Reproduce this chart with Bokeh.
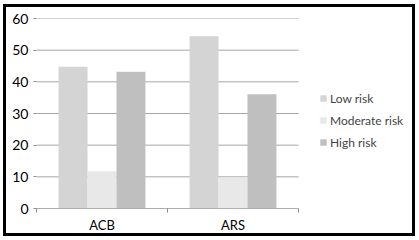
from bokeh.plotting import figure
from bokeh.models import Legend, LegendItem, FixedTicker, ColumnDataSource
from bokeh.transform import dodge
from bokeh.embed import file_html
from bokeh.resources import INLINE

categories = ["ACB", "ARS"]
series_names = ["Low risk", "Moderate risk", "High risk"]
low_risk = [44.8, 54.4]
moderate_risk = [11.8, 9.7]
high_risk = [43.2, 36.1]
y_ticks = [0, 10, 20, 30, 40, 50, 60]

colors = ["#d4d4d4", "#e8e8e8", "#bfbfbf"]
FONT = "Lato"
GRID = "#a6a6a6"

n = len(categories)
# plot area: 262 px for the categories, the rest of the frame holds the legend
frame_w = 412 - 30 - 12
x_end = n * frame_w / 262.0

src = ColumnDataSource(dict(
    pos=[i + 0.5 for i in range(n)],
    low=low_risk, mod=moderate_risk, high=high_risk,
))

p = figure(width=412, height=232, output_backend="svg", toolbar_location=None,
           x_range=(0, x_end), y_range=(0, 60),
           min_border_left=30, min_border_right=12, min_border_top=11, min_border_bottom=31)
p.styles = {"position": "absolute", "left": "3px", "top": "4px", "border": "3px solid black",
            "box-sizing": "border-box", "overflow": "hidden"}
p.outline_line_color = None
p.background_fill_color = "white"
p.border_fill_color = "white"

# gridlines limited to the category area
p.segment(x0=[0] * len(y_ticks), x1=[n] * len(y_ticks), y0=y_ticks, y1=y_ticks,
          line_color=GRID, line_width=1)

w = 0.221
r1 = p.vbar(x=dodge("pos", -w, range=p.x_range), top="low", width=w, source=src, color=colors[0], line_color=None)
r2 = p.vbar(x=dodge("pos", 0, range=p.x_range), top="mod", width=w, source=src, color=colors[1], line_color=None)
r3 = p.vbar(x=dodge("pos", w, range=p.x_range), top="high", width=w, source=src, color=colors[2], line_color=None)

# x axis line (category area only)
p.segment(x0=[0], x1=[n], y0=[0], y1=[0], line_color="#8c8c8c", line_width=1)

# axes
p.xaxis.ticker = FixedTicker(ticks=[i + 0.5 for i in range(n)],
                             minor_ticks=list(range(n + 1)))
p.xaxis.major_label_overrides = {i + 0.5: c for i, c in enumerate(categories)}
p.xaxis.major_tick_line_color = None
p.xaxis.major_tick_out = 0
p.xaxis.major_tick_in = 0
p.xaxis.minor_tick_out = 4
p.xaxis.minor_tick_in = 0
p.xaxis.minor_tick_line_color = "#8c8c8c"
p.xaxis.axis_line_color = None
p.xaxis.major_label_text_font = FONT
p.xaxis.major_label_text_font_size = "13px"
p.xaxis.major_label_text_color = "black"
p.xaxis.major_label_standoff = 4

p.yaxis.ticker = FixedTicker(ticks=y_ticks)
p.yaxis.axis_line_color = None
p.yaxis.major_tick_out = 3
p.yaxis.major_tick_in = 0
p.yaxis.major_tick_line_color = "#8c8c8c"
p.yaxis.minor_tick_line_color = None
p.yaxis.major_label_text_font = FONT
p.yaxis.major_label_text_font_size = "14px"
p.yaxis.major_label_text_color = "black"
p.yaxis.major_label_standoff = 5

p.xgrid.grid_line_color = None
p.ygrid.grid_line_color = None

legend = Legend(items=[LegendItem(label=series_names[0], renderers=[r1]),
                       LegendItem(label=series_names[1], renderers=[r2]),
                       LegendItem(label=series_names[2], renderers=[r3])],
                location=(283, 56), glyph_width=8, glyph_height=8, label_height=20,
                spacing=2, padding=0, margin=0, label_standoff=3,
                label_text_font=FONT, label_text_font_size="12px",
                border_line_color=None, background_fill_alpha=0)
p.add_layout(legend, "center")

open("out.html", "w").write(file_html(p, INLINE))
